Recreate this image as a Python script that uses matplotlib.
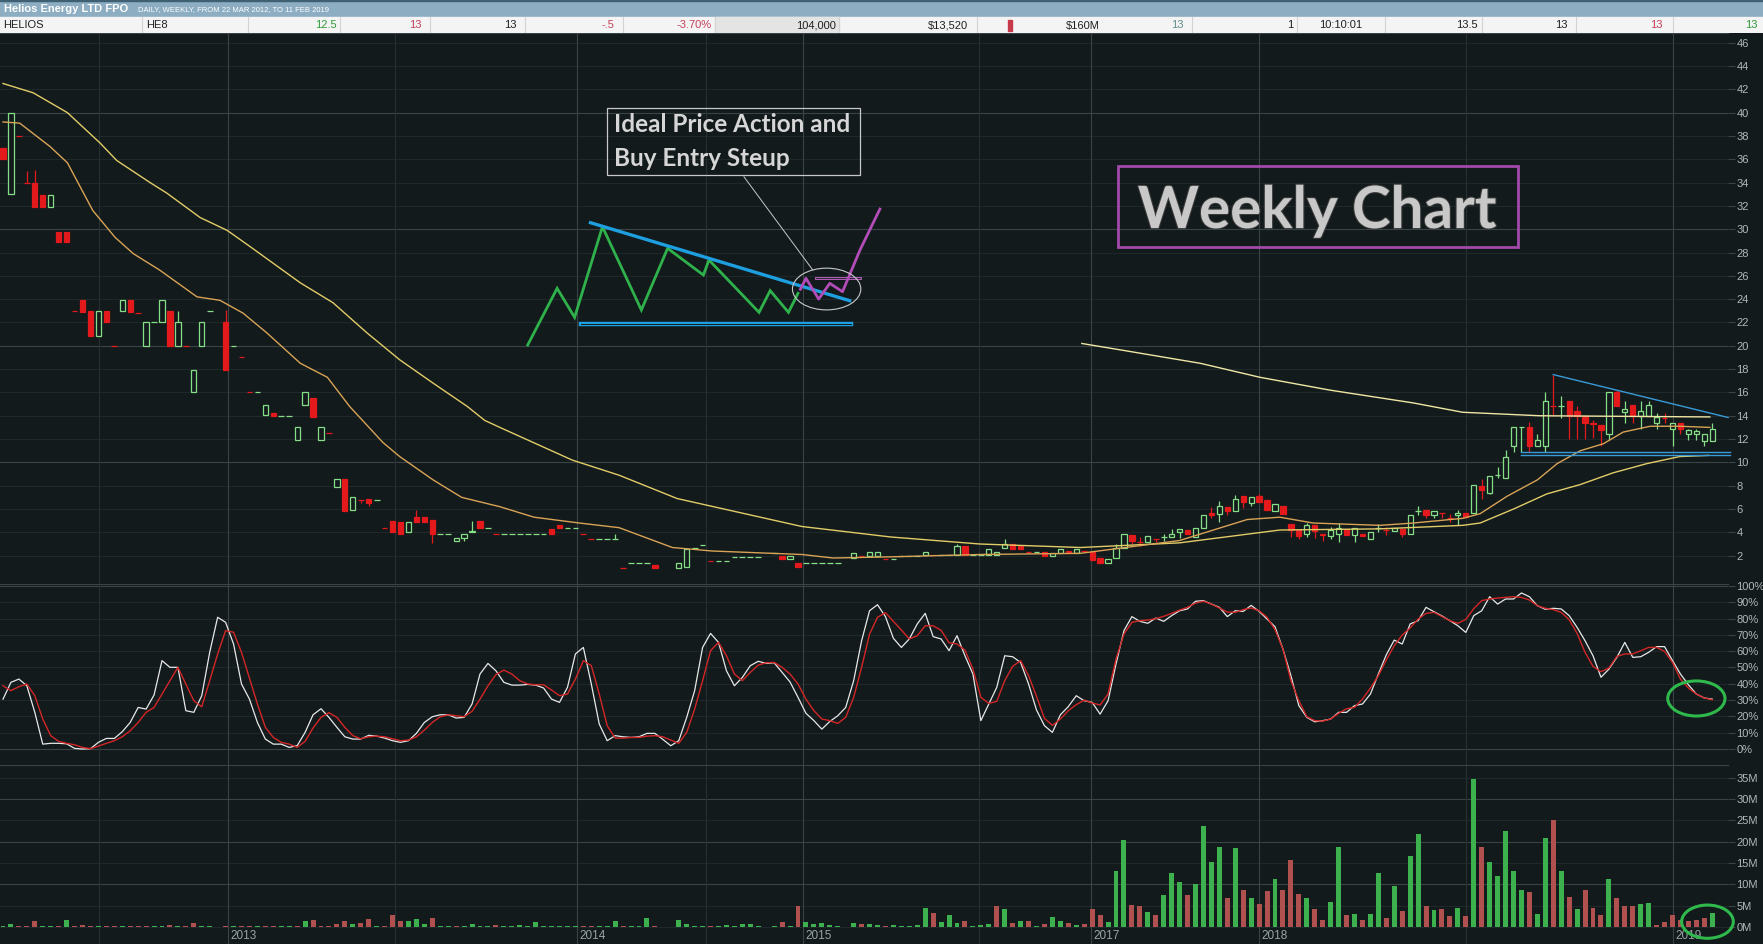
import matplotlib
matplotlib.use("Agg")
import matplotlib.pyplot as plt
import matplotlib.patheffects as pe
from matplotlib.patches import Rectangle, Ellipse

# weekly bars of HELIOS, one entry per bar on the axis (None = no trade that week)
bar_open = [
    37.0, 33.0, 38.0, 34.0, 34.0, 32.9, 31.9, 29.8, 29.8, 23.0,   # 0
    23.9, 23.0, 20.8, 23.0, 20.0, 23.0, 23.9, 22.8, 20.0, 22.0,   # 10
    22.0, 23.0, 20.0, 20.0, 16.0, 20.0, 23.0, None, 22.0, 20.0,   # 20
    19.0, 16.0, 16.0, 14.1, 14.2, 14.0, 14.0, 11.9, 14.9, 15.5,   # 30
    11.9, 12.5, 7.9, 8.6, 5.9, 6.8, 6.9, 6.8, 4.4, 5.0,           # 40
    4.9, 4.0, 5.3, 5.3, 5.1, 3.9, 3.9, 3.3, 3.5, 4.0,             # 50
    5.0, 4.4, 3.9, 3.9, 3.9, 3.9, 3.9, 3.9, 3.9, 4.3,             # 60
    4.6, 4.4, 4.4, 3.9, 3.4, 3.4, 3.4, 3.4, 0.9, 1.4,             # 70
    1.4, 1.4, 1.2, None, None, 0.9, 1.0, 2.7, 2.9, 1.5,           # 80
    1.5, 1.5, 1.9, 1.9, 1.9, 1.9, None, 2.2, 2.0, 1.7,            # 90
    1.4, 1.4, 1.4, 1.4, 1.4, 1.4, None, 1.8, 2.0, 2.0,            # 100
    2.0, 1.7, 1.7, 2.0, 2.0, 2.0, 2.1, 2.1, 2.1, 2.1,             # 110
    2.1, 2.8, 2.1, 2.1, 2.1, 2.1, 2.7, 3.0, 2.8, 2.3,             # 120
    2.3, 2.3, 2.0, 2.2, 2.4, 2.2, 2.4, 2.3, 1.8, 1.4,             # 130
    1.8, 2.7, 3.8, 3.2, 3.2, 3.4, 3.6, 3.6, 4.0, 4.2,             # 140
    3.6, 4.4, 5.7, 5.6, 6.2, 5.8, 7.1, 6.5, 7.1, 6.8,             # 150
    5.8, 6.3, 4.7, 4.2, 3.9, 4.6, 3.9, 3.7, 3.9, 4.3,             # 160
    3.8, 3.9, 3.4, 4.4, 4.2, 4.1, 4.3, 3.9, 5.8, 5.9,             # 170
    5.5, 5.7, 5.2, 5.5, 5.7, 5.7, 8.0, 7.4, 8.9, 8.7,             # 180
    11.4, 13.0, 13.0, 11.4, 11.4, 14.8, 14.8, 15.3, 14.4, 14.0,   # 190
    13.4, 13.2, 12.4, 16.0, 14.3, 14.9, 14.0, 14.0, 13.4, 13.8,   # 200
    12.9, 13.4, 12.4, 12.4, 11.8, 11.8,                           # 210
]
bar_high = [
    37.0, 40.0, 38.0, 35.0, 35.1, 32.9, 32.9, 29.8, 29.8, 23.0,
    23.9, 23.0, 23.0, 23.0, 20.0, 23.9, 23.9, 22.8, 22.0, 22.0,
    23.9, 23.0, 23.0, 20.0, 17.9, 22.0, 23.0, None, 23.1, 20.0,
    19.0, 16.0, 16.0, 14.9, 14.2, 14.0, 14.0, 13.0, 16.0, 15.5,
    13.0, 12.5, 8.6, 8.6, 7.0, 6.8, 6.9, 6.8, 4.4, 5.0,
    4.9, 4.9, 5.9, 5.3, 5.1, 3.9, 3.9, 3.5, 3.9, 5.0,
    5.0, 4.4, 3.9, 3.9, 3.9, 3.9, 3.9, 3.9, 3.9, 4.3,
    4.6, 4.4, 4.4, 3.9, 3.4, 3.4, 3.4, 3.9, 0.9, 1.4,
    1.4, 1.4, 1.2, None, None, 1.4, 2.6, 2.7, 2.9, 1.5,
    1.5, 1.5, 1.9, 1.9, 1.9, 1.9, None, 2.2, 2.0, 2.0,
    1.4, 1.4, 1.4, 1.4, 1.4, 1.4, None, 2.2, 2.0, 2.3,
    2.3, 1.7, 1.7, 2.0, 2.0, 2.0, 2.3, 2.1, 2.1, 2.1,
    3.0, 2.8, 2.1, 2.1, 2.6, 2.3, 3.4, 3.0, 2.8, 2.3,
    2.3, 2.3, 2.2, 2.6, 2.4, 2.6, 2.4, 2.3, 1.8, 1.7,
    3.0, 3.9, 3.8, 3.6, 3.7, 3.4, 3.9, 4.3, 4.3, 4.2,
    4.4, 5.5, 6.2, 6.7, 6.2, 7.2, 7.1, 7.0, 7.3, 6.8,
    6.4, 6.3, 4.7, 4.2, 4.8, 4.6, 3.9, 4.5, 4.8, 4.3,
    4.4, 3.9, 4.0, 4.7, 4.5, 4.4, 4.3, 5.5, 6.3, 5.9,
    5.8, 5.7, 5.6, 5.9, 5.7, 8.1, 8.6, 8.8, 9.6, 11.1,
    13.0, 13.0, 13.5, 12.4, 16.0, 17.5, 15.7, 15.3, 14.8, 14.0,
    13.6, 13.2, 16.0, 16.2, 15.3, 14.9, 15.3, 15.3, 14.2, 14.2,
    13.4, 13.4, 12.9, 12.9, 12.4, 13.4,
]
bar_low = [
    36.0, 33.0, 38.0, 34.0, 31.9, 31.9, 31.9, 28.9, 28.9, 23.0,
    22.9, 20.8, 20.8, 22.0, 20.0, 23.0, 22.9, 22.8, 20.0, 22.0,
    22.0, 20.0, 20.0, 20.0, 16.0, 20.0, 23.0, None, 17.9, 20.0,
    19.0, 16.0, 16.0, 14.1, 14.0, 14.0, 14.0, 11.9, 14.9, 13.9,
    11.9, 12.5, 7.9, 5.8, 5.9, 6.5, 6.3, 6.8, 4.4, 4.0,
    3.9, 4.0, 4.9, 4.9, 3.1, 3.9, 3.9, 3.3, 3.3, 4.0,
    4.4, 4.4, 3.9, 3.9, 3.9, 3.9, 3.9, 3.9, 3.9, 3.9,
    4.4, 4.4, 4.4, 3.9, 3.4, 3.4, 3.4, 3.4, 0.9, 1.4,
    1.4, 1.4, 0.9, None, None, 0.9, 1.0, 2.7, 2.9, 1.5,
    1.5, 1.5, 1.9, 1.9, 1.9, 1.9, None, 2.2, 1.7, 1.7,
    1.0, 1.4, 1.4, 1.4, 1.4, 1.4, None, 1.8, 2.0, 2.0,
    2.0, 1.7, 1.7, 2.0, 2.0, 2.0, 2.1, 2.1, 2.1, 2.1,
    2.1, 2.1, 2.1, 2.1, 2.1, 2.1, 2.7, 2.6, 2.6, 2.3,
    2.3, 2.0, 2.0, 2.2, 2.2, 2.2, 2.4, 1.6, 1.4, 1.4,
    1.8, 2.7, 3.0, 2.8, 3.2, 3.2, 3.3, 3.6, 3.5, 3.9,
    3.6, 4.4, 5.2, 4.9, 5.5, 5.8, 6.1, 6.3, 6.6, 5.9,
    5.8, 5.6, 3.6, 3.4, 3.6, 3.5, 3.3, 3.4, 3.2, 3.8,
    3.2, 3.7, 3.4, 4.0, 3.8, 4.1, 3.6, 3.9, 5.5, 5.2,
    5.2, 5.2, 4.9, 4.6, 5.3, 5.7, 6.9, 7.3, 8.7, 8.7,
    10.9, 10.9, 10.9, 11.4, 10.9, 14.0, 13.8, 12.0, 12.0, 12.0,
    12.1, 11.4, 11.9, 14.8, 13.4, 13.4, 12.9, 14.0, 12.9, 13.4,
    11.4, 12.4, 11.9, 11.9, 11.4, 11.8,
]
bar_close = [
    36.0, 40.0, 38.0, 34.0, 31.9, 31.9, 32.9, 28.9, 28.9, 23.0,
    22.9, 20.8, 23.0, 22.0, 20.0, 23.9, 22.9, 22.8, 22.0, 22.0,
    23.9, 20.0, 22.0, 20.0, 17.9, 22.0, 23.0, None, 17.9, 20.0,
    19.0, 16.0, 16.0, 14.9, 14.0, 14.0, 14.0, 13.0, 16.0, 13.9,
    13.0, 12.5, 8.6, 5.8, 7.0, 6.8, 6.5, 6.8, 4.4, 4.0,
    3.9, 4.9, 4.9, 4.9, 3.9, 3.9, 3.9, 3.5, 3.9, 4.1,
    4.4, 4.4, 3.9, 3.9, 3.9, 3.9, 3.9, 3.9, 3.9, 3.9,
    4.4, 4.4, 4.4, 3.9, 3.4, 3.4, 3.4, 3.4, 0.9, 1.4,
    1.4, 1.4, 0.9, None, None, 1.4, 2.6, 2.7, 2.9, 1.5,
    1.5, 1.5, 1.9, 1.9, 1.9, 1.9, None, 2.2, 1.7, 2.0,
    1.0, 1.4, 1.4, 1.4, 1.4, 1.4, None, 2.2, 2.0, 2.3,
    2.3, 1.7, 1.7, 2.0, 2.0, 2.0, 2.3, 2.1, 2.1, 2.1,
    2.8, 2.1, 2.1, 2.1, 2.6, 2.3, 3.0, 2.6, 2.6, 2.3,
    2.3, 2.0, 2.2, 2.6, 2.2, 2.6, 2.4, 1.6, 1.4, 1.7,
    2.7, 3.9, 3.3, 3.2, 3.7, 3.4, 3.6, 3.9, 4.3, 3.9,
    4.4, 5.5, 5.5, 6.3, 5.8, 6.9, 6.6, 7.0, 6.6, 5.9,
    6.4, 5.6, 4.2, 3.7, 4.6, 4.1, 3.8, 4.2, 4.4, 3.8,
    4.4, 3.7, 4.0, 4.4, 4.2, 4.4, 3.9, 5.5, 5.8, 5.5,
    5.8, 5.7, 5.2, 5.7, 5.3, 8.1, 7.6, 8.8, 8.9, 10.5,
    13.0, 13.0, 11.4, 11.9, 15.3, 14.8, 14.8, 14.0, 14.0, 13.4,
    13.3, 12.8, 16.0, 14.8, 14.6, 14.0, 14.4, 14.9, 13.9, 13.8,
    13.4, 12.9, 12.8, 12.7, 12.4, 12.9,
]

# volume, millions of shares per week
volume_m = [
    0.3, 0.7, 0.15, 0.3, 1.4, 0.15, 0.2, 0.15, 1.6, 0.15,
    0.5, 0.15, 0.15, 0.15, 0.15, 0.15, 0.15, 0.15, 0.15, 0.15,
    0.15, 0.4, 0.15, 0.15, 1.0, 0.15, 0.15, 0.0, 0.3, 0.15,
    0.15, 0.3, 0.15, 0.3, 0.15, 0.15, 0.15, 0.2, 1.4, 1.6,
    0.15, 0.15, 0.8, 1.4, 0.6, 1.0, 1.9, 0.15, 0.15, 2.9,
    1.4, 1.4, 1.9, 0.6, 2.1, 0.15, 0.15, 0.15, 0.15, 0.6,
    0.15, 0.15, 0.5, 0.15, 0.3, 0.4, 0.15, 1.2, 0.15, 0.15,
    0.15, 0.15, 0.15, 0.15, 0.15, 0.15, 0.15, 1.4, 0.15, 0.15,
    0.15, 2.1, 0.3, 0.0, 0.0, 1.6, 0.6, 0.15, 0.15, 0.15,
    0.15, 0.4, 0.15, 0.8, 0.8, 0.15, 0.0, 0.15, 1.2, 0.15,
    4.8, 1.2, 0.6, 1.0, 0.5, 0.15, 0.0, 1.0, 0.8, 0.8,
    0.4, 0.15, 0.4, 0.15, 0.15, 0.4, 4.5, 3.3, 1.2, 2.8,
    0.9, 1.3, 0.15, 0.4, 0.6, 4.9, 4.1, 1.0, 1.3, 1.3,
    0.15, 0.6, 2.3, 1.3, 0.9, 0.4, 0.6, 4.1, 2.9, 1.25,
    13.1, 20.3, 5.1, 4.9, 3.4, 2.9, 7.5, 12.6, 10.5, 7.5,
    10.0, 23.7, 15.2, 18.7, 6.7, 18.5, 8.7, 6.9, 5.3, 8.5,
    11.3, 8.6, 15.8, 7.8, 6.7, 4.1, 1.6, 5.8, 18.7, 2.7,
    3.1, 1.6, 3.1, 12.6, 2.0, 9.6, 3.7, 16.7, 21.7, 4.8,
    4.0, 4.1, 2.5, 4.4, 2.5, 34.7, 18.7, 15.3, 12.0, 22.4,
    13.1, 8.7, 8.2, 3.1, 20.8, 25.1, 13.1, 7.1, 4.1, 8.7,
    4.4, 2.7, 11.3, 6.7, 5.0, 4.8, 5.3, 5.7, 0.5, 1.1,
    2.7, 1.6, 1.3, 1.6, 2.0, 3.3,
]

# stochastic oscillator, %K (white) and %D (red)
stoch_k = [
    30.6, 40.9, 42.9, 38.8, 22.5, 3.0, 3.5, 3.5, 3.2, 0.4,
    0.0, 0.2, 4.1, 6.5, 6.5, 10.6, 16.3, 25.5, 24.5, 33.1,
    54.2, 50.1, 50.1, 23.5, 22.5, 32.7, 59.3, 80.8, 77.7, 64.4,
    39.9, 30.6, 16.3, 6.1, 3.0, 3.0, 1.0, 2.0, 10.2, 21.0,
    24.7, 19.4, 13.3, 7.5, 6.1, 6.1, 8.4, 7.9, 6.7, 5.1,
    4.1, 5.1, 9.6, 16.3, 19.8, 21.0, 21.0, 19.0, 19.4, 27.6,
    46.0, 52.5, 48.0, 40.9, 39.2, 39.2, 39.6, 39.2, 37.4, 30.6,
    28.6, 37.8, 58.3, 62.3, 39.9, 15.3, 5.1, 8.2, 7.5, 7.1,
    7.5, 9.6, 9.6, 5.9, 2.0, 5.1, 19.4, 35.8, 62.3, 70.9,
    65.4, 48.0, 38.8, 43.9, 51.1, 53.8, 52.5, 52.9, 47.0, 41.1,
    31.7, 21.9, 17.4, 12.2, 16.9, 20.4, 25.5, 41.9, 66.4, 84.8,
    88.5, 81.2, 67.9, 62.3, 67.5, 76.7, 83.2, 68.9, 67.5, 60.3,
    69.5, 57.2, 46.0, 17.4, 27.6, 37.8, 57.2, 56.6, 53.1, 39.9,
    23.9, 14.3, 10.2, 21.0, 26.0, 32.7, 29.6, 28.6, 21.4, 29.6,
    52.1, 72.6, 81.2, 78.3, 77.1, 80.3, 78.3, 81.8, 84.8, 85.9,
    90.6, 91.0, 88.9, 86.9, 81.2, 84.8, 84.4, 88.1, 84.4, 79.7,
    75.0, 61.3, 45.0, 26.6, 19.4, 16.7, 17.4, 18.4, 22.5, 22.5,
    26.6, 27.6, 33.7, 46.0, 57.8, 66.8, 64.4, 76.7, 78.7, 86.9,
    84.2, 81.6, 78.7, 75.6, 71.5, 81.8, 84.8, 93.4, 88.9, 92.0,
    92.0, 95.7, 93.4, 87.9, 85.7, 86.3, 85.9, 81.8, 74.6, 66.4,
    57.2, 44.0, 49.0, 56.2, 65.4, 56.2, 56.6, 59.3, 62.8, 62.8,
    54.2, 46.0, 39.4, 33.7, 31.3, 30.6,
]
stoch_d = [
    38.8, 35.8, 38.2, 39.9, 32.7, 18.4, 8.2, 4.7, 3.5, 2.6,
    1.0, 0.2, 1.8, 3.5, 5.1, 7.5, 11.2, 16.3, 22.5, 25.5,
    33.7, 41.9, 50.1, 39.9, 29.6, 25.9, 41.9, 58.3, 72.6, 71.6,
    59.3, 43.5, 27.6, 13.3, 7.1, 4.1, 3.0, 1.0, 4.7, 12.9,
    19.4, 22.3, 19.4, 13.3, 8.2, 6.3, 7.5, 7.9, 7.5, 6.3,
    5.1, 5.5, 7.5, 11.6, 16.3, 19.8, 21.0, 20.4, 19.8, 23.1,
    30.6, 38.8, 45.6, 48.4, 46.0, 41.9, 39.9, 39.4, 39.4, 36.2,
    32.7, 33.7, 42.9, 54.2, 51.1, 33.7, 14.3, 6.7, 6.7, 7.1,
    7.1, 7.9, 8.2, 7.5, 5.5, 3.5, 10.2, 24.5, 41.9, 60.3,
    65.4, 57.2, 46.0, 41.9, 47.0, 51.5, 52.9, 53.1, 50.1, 46.0,
    39.9, 30.6, 23.5, 18.4, 17.4, 15.7, 19.4, 31.7, 50.1, 70.5,
    80.8, 83.6, 78.3, 73.0, 67.5, 69.5, 75.6, 75.6, 72.8, 65.2,
    64.4, 60.7, 49.1, 31.7, 28.0, 29.2, 41.9, 50.7, 54.2, 45.0,
    32.3, 18.8, 14.5, 18.4, 23.5, 27.2, 30.0, 28.2, 27.0, 33.7,
    55.2, 70.5, 77.7, 78.7, 79.1, 79.9, 81.4, 83.2, 85.2, 86.9,
    89.5, 90.6, 88.9, 86.5, 84.0, 83.8, 85.5, 86.5, 84.8, 80.8,
    73.2, 61.3, 41.9, 29.6, 19.8, 17.4, 17.1, 18.4, 21.9, 24.7,
    25.5, 30.6, 37.4, 45.0, 54.6, 63.4, 69.9, 74.2, 79.7, 83.2,
    83.8, 81.2, 78.7, 77.1, 79.5, 86.1, 91.0, 92.0, 92.6, 93.0,
    93.4, 93.0, 91.4, 87.9, 86.3, 85.5, 83.8, 79.3, 70.9, 59.3,
    50.7, 47.4, 49.7, 56.8, 58.3, 58.3, 60.3, 62.3, 62.3, 59.9,
    53.1, 42.9, 37.4, 33.7, 31.3, 30.2,
]

# moving averages as drawn on the chart (bar number, price)
ma_fast_x = [0, 2.1, 5.9, 8.1, 11.3, 14.1, 16.4, 19.7, 24.4, 27.3, 30.2, 33.2, 37.4,
             40.8, 43.6, 47.8, 49.9, 54.1, 57.7, 62.5, 66.8, 72.5, 77.5, 84.2, 89.2,
             100.5, 104.4, 111.7, 122.9, 135.5, 148, 156.5, 160.6, 164.8, 173.2, 177.4,
             183.6, 185.8, 189.2, 193, 195.5, 198.4, 201.3, 203.8, 207.2, 210.9, 214.7]
ma_fast_y = [39.2, 39.1, 37.1, 35.7, 31.6, 29.3, 27.9, 26.5, 24.2, 23.9, 22.8, 21.1, 18.5,
             17.3, 14.8, 11.7, 10.5, 8.5, 7.0, 6.2, 5.3, 4.8, 4.4, 2.7, 2.4,
             2.1, 1.8, 1.9, 2.1, 2.2, 3.3, 5.1, 5.3, 4.8, 4.6, 4.8,
             5.2, 5.6, 7.1, 8.5, 9.9, 11.0, 11.6, 12.6, 13.1, 13.1, 13.0]
ma_slow_x = [0, 3.8, 8.1, 12.2, 14.3, 18.5, 20.6, 24.8, 28.2, 31.1, 37.4, 41.5, 45.8,
             49.9, 54.1, 58.4, 60.6, 62.5, 71.6, 77.5, 84.8, 100.5, 111.7, 122.9, 135.5,
             148, 160.6, 173.2, 183.6, 185.8, 190, 194.2, 198.4, 202.5, 206.8, 210.9, 214.5]
ma_slow_y = [42.5, 41.7, 40.0, 37.4, 35.9, 34.0, 33.1, 31.0, 29.9, 28.5, 25.4, 23.7, 21.1,
             18.8, 16.8, 14.8, 13.6, 13.0, 10.2, 8.9, 6.9, 4.5, 3.6, 3.0, 2.7,
             3.1, 4.2, 4.3, 4.6, 4.8, 6.0, 7.3, 8.1, 9.1, 9.9, 10.5, 10.6]
ma_long_x = [135.7, 141, 150.6, 158.1, 166.9, 177.4, 183.6, 193.3, 214.7]
ma_long_y = [20.2, 19.6, 18.5, 17.3, 16.2, 15.1, 14.3, 14.0, 13.9]

# date grid (bar number) and its labels
year_pos = [12.1, 28.3, 49.3, 72.2, 88.4, 100.6, 122.8, 136.9, 158.0, 184.0, 210.1]
year_labels = ['', '2013', '', '2014', '', '2015', '', '2017', '2018', '', '2019']

# hand drawn overlays (bar number, price)
pattern_x = [66.0, 69.7, 71.9, 75.4, 80.3, 83.6, 88.1, 88.8, 95.1, 96.5, 98.8, 100.0]
pattern_y = [20.07, 24.93, 22.44, 30.21, 23.07, 28.36, 26.07, 27.36, 22.87, 24.73, 22.87, 24.50]
breakout_x = [100.3, 101.0, 102.6, 104.0, 105.6, 107.8, 110.3]
breakout_y = [24.85, 25.79, 24.01, 25.36, 24.64, 28.22, 31.73]
resist_x = [73.9, 106.5]
resist_y = [30.56, 23.87]
support_x = [72.7, 106.7]
support_y = 21.9
trigger_x = [102.3, 107.8]
trigger_y = 25.79
tri_top_x = [195.0, 217.0]
tri_top_y = [17.53, 13.85]
tri_base_x = [190.9, 217.2]
tri_base_y = [10.85, 10.63]

header_title = 'Helios Energy LTD FPO'
header_sub = 'DAILY, WEEKLY, FROM 22 MAR 2012, TO 11 FEB 2019'
quote_texts = ['HELIOS', 'HE8', '12.5', '13', '13', '-.5', '-3.70%', '104,000', '$13,520',
               '$160M', '13', '1', '10:10:01', '13.5', '13', '13', '13']
quote_colors = ['#202020', '#202020', '#2f9a3a', '#c2405a', '#202020', '#c2405a', '#c2405a',
                '#202020', '#202020', '#202020', '#5f8f8a', '#202020', '#202020', '#202020',
                '#202020', '#c2405a', '#2f9a3a']

# ---------------------------------------------------------------- styling
W, H = 1763, 944
BG = '#121a1c'
GRID_HI = '#3a4447'
GRID_LO = '#1f282b'
TXT = '#b0b8b8'
UP = '#86de86'
DN = '#e3191b'
VUP = '#3db14d'
VDN = '#b0504f'
SANS = ['Liberation Sans', 'DejaVu Sans']

fig = plt.figure(figsize=(W / 100, H / 100), dpi=100, facecolor=BG)


def px_axes(x0, y0, x1, y1):
    """axes placed by pixel box, y measured from the top"""
    ax = fig.add_axes([x0 / W, 1 - y1 / H, (x1 - x0) / W, (y1 - y0) / H])
    ax.set_facecolor(BG)
    return ax


def style_panel(ax, ylo, yhi, ticks, labels, bright):
    ax.set_xlim(-0.377, 216.98)
    ax.set_ylim(ylo, yhi)
    for s in ax.spines.values():
        s.set_visible(False)
    ax.spines['top'].set_visible(True)
    ax.spines['top'].set_color(GRID_HI)
    ax.set_xticks([])
    ax.yaxis.tick_right()
    ax.set_yticks(ticks)
    ax.set_yticklabels(labels, family=SANS)
    ax.tick_params(axis='y', colors=GRID_HI, labelcolor=TXT, labelsize=8,
                   length=5, width=0.8, pad=1)
    for t in ticks:
        ax.axhline(t, color=GRID_HI if t in bright else GRID_LO, lw=0.8, zorder=0)
    for pos, lab in zip(year_pos, year_labels):
        ax.axvline(pos, color=GRID_HI if lab else '#263033', lw=0.8, zorder=0)


idx = list(range(len(bar_close)))

# ---------------------------------------------------------------- price panel
ax = px_axes(0, 33, 1728, 584)
price_ticks = list(range(2, 47, 2))
style_panel(ax, -0.43, 46.83, price_ticks, [str(v) for v in price_ticks], [10, 20, 30, 40])

prev = None
for i, o, h, l, c in zip(idx, bar_open, bar_high, bar_low, bar_close):
    if c is None:
        continue
    up = c > o if c != o else (prev is None or c >= prev)
    col = UP if up else DN
    if h == l:
        ax.hlines(c, i - 0.36, i + 0.36, color=col, lw=0.9, zorder=3)
    else:
        ax.vlines(i, l, h, color=col, lw=0.9, zorder=3)
        if o == c:
            ax.hlines(c, i - 0.36, i + 0.36, color=col, lw=0.9, zorder=3)
        else:
            ax.add_patch(Rectangle((i - 0.33, min(o, c)), 0.66, abs(c - o),
                                   facecolor=BG if up else DN, edgecolor=col,
                                   lw=0.9, zorder=4))
    prev = c

ax.plot(ma_slow_x, ma_slow_y, color='#e2cc68', lw=1.0, zorder=5)
ax.plot(ma_fast_x, ma_fast_y, color='#d9a356', lw=1.0, zorder=5)
ax.plot(ma_long_x, ma_long_y, color='#f0e7a4', lw=1.0, zorder=5)

# overlays
ax.plot(pattern_x, pattern_y, color='#2fb24b', lw=2.0, zorder=6, solid_joinstyle='miter')
ax.plot(resist_x, resist_y, color='#1e9fe0', lw=2.4, zorder=7)
ax.plot(support_x, [support_y] * 2, color='#1e9fe0', lw=3.2, zorder=6)
ax.plot(support_x, [support_y] * 2, color=BG, lw=0.7, zorder=7)
ax.plot(breakout_x, breakout_y, color='#b24cb8', lw=2.0, zorder=8)
ax.plot(trigger_x, [trigger_y] * 2, color='#c466c8', lw=2.0, zorder=7)
ax.plot(trigger_x, [trigger_y] * 2, color=BG, lw=0.6, zorder=7)
ax.add_patch(Ellipse((103.6, 24.87), 8.6, 3.58, fill=False, edgecolor='#c8c8c8',
                     lw=0.8, zorder=8))
ax.plot([93.2, 101.85], [34.5, 26.51], color='#c8c8c8', lw=0.7, zorder=8)
ax.add_patch(Rectangle((76.0, 34.65), 31.8, 5.75, fill=False, edgecolor='#c8c8c8',
                       lw=0.9, zorder=8))
for line, yb in zip(['Ideal Price Action and', 'Buy Entry Steup'], [38.3, 35.45]):
    ax.text(76.8, yb, line, color='#d6d6d6', fontsize=17.5, fontweight='bold',
            family=['Lato', 'DejaVu Sans'], va='baseline', ha='left', zorder=9)

ax.add_patch(Rectangle((140.3, 28.47), 50.3, 6.95, fill=False, edgecolor='#a24aaa',
                       lw=2.0, zorder=8))
ax.text(165.3, 30.1, 'Weekly Chart', color='#c8c8c8', fontsize=42, fontweight='bold',
        family=['Lato', 'DejaVu Sans'], ha='center', va='baseline', zorder=9,
        path_effects=[pe.withStroke(linewidth=1.5, foreground='#3a3a3a')])

ax.plot(tri_top_x, tri_top_y, color='#3a9ad8', lw=1.0, zorder=7, clip_on=False)
for yb in tri_base_y:
    ax.plot(tri_base_x, [yb, yb], color='#3a9ad8', lw=1.0, zorder=7, clip_on=False)

# ---------------------------------------------------------------- stochastic panel
ax_o = px_axes(0, 584, 1728, 765)
osc_ticks = list(range(0, 101, 10))
style_panel(ax_o, -9.8, 101.2, osc_ticks, [f'{v}%' for v in osc_ticks], [0, 100])
ax_o.plot(idx, stoch_k, color='#e8e8e8', lw=0.9, zorder=3)
ax_o.plot(idx, stoch_d, color='#d42626', lw=1.0, zorder=4)
ax_o.add_patch(Ellipse((213.0, 31.0), 7.2, 21.5, fill=False, edgecolor='#2fb84b',
                       lw=2.2, zorder=6, clip_on=False))

# ---------------------------------------------------------------- volume panel
ax_v = px_axes(0, 765, 1728, 944)
vol_ticks = list(range(0, 36, 5))
style_panel(ax_v, -4.0, 38.0, vol_ticks, [f'{v}M' for v in vol_ticks], [10, 20, 30])
vol_colors = []
prev = None
for c in bar_close:
    if c is None:
        vol_colors.append(VDN)
        continue
    vol_colors.append(VUP if prev is None or c >= prev else VDN)
    prev = c
ax_v.bar(idx, volume_m, width=0.62, color=vol_colors, zorder=3)
for pos, lab in zip(year_pos, year_labels):
    if lab:
        ax_v.text(pos + 0.3, -2.1, lab, color='#9aa5a5', fontsize=8.5, va='center',
                  ha='left', family=SANS, zorder=4)
ax_v.add_patch(Ellipse((214.4, 1.24), 6.5, 7.8, fill=False, edgecolor='#2fb84b',
                       lw=2.2, zorder=6, clip_on=False))

# ---------------------------------------------------------------- header strip
hdr = fig.add_axes([0, 1 - 33 / H, 1, 33 / H])
hdr.set_xlim(0, W)
hdr.set_ylim(33, 0)
hdr.axis('off')
hdr.add_patch(Rectangle((0, 0), W, 17, color='#8cadc2'))
hdr.add_patch(Rectangle((0, 0), W, 1.2, color='#3f5f72'))
hdr.add_patch(Rectangle((0, 17), W, 16, color='#f4f4f4'))
hdr.add_patch(Rectangle((715, 17), 124, 16, color='#e4e4e4'))
hdr.text(4, 9, header_title, color='white', fontsize=8, fontweight='bold',
         family=SANS, va='center', ha='left')
hdr.text(138, 9.5, header_sub, color='white', fontsize=5.5, family=SANS,
         va='center', ha='left')
for xs in [142, 248, 340, 430, 525, 623, 715, 839, 977, 1192, 1297, 1385, 1482, 1576, 1673]:
    hdr.plot([xs, xs], [17, 33], color='#d2d2d2', lw=0.8)
hdr.add_patch(Rectangle((1008, 20), 3.5, 11, color='#c83a4a'))
quote_anchor = [(3, 'left'), (146, 'left'), (337, 'right'), (422, 'right'), (517, 'right'),
                (614, 'right'), (712, 'right'), (836, 'right'), (968, 'right'),
                (1100, 'right'), (1184, 'right'), (1293, 'right'), (1319, 'left'),
                (1478, 'right'), (1568, 'right'), (1663, 'right'), (1758, 'right')]
for txt, col, (xa, ha) in zip(quote_texts, quote_colors, quote_anchor):
    hdr.text(xa, 25.5, txt, color=col, fontsize=8, family=SANS, va='center', ha=ha)

fig.savefig('out.png', dpi=100, facecolor=BG)
